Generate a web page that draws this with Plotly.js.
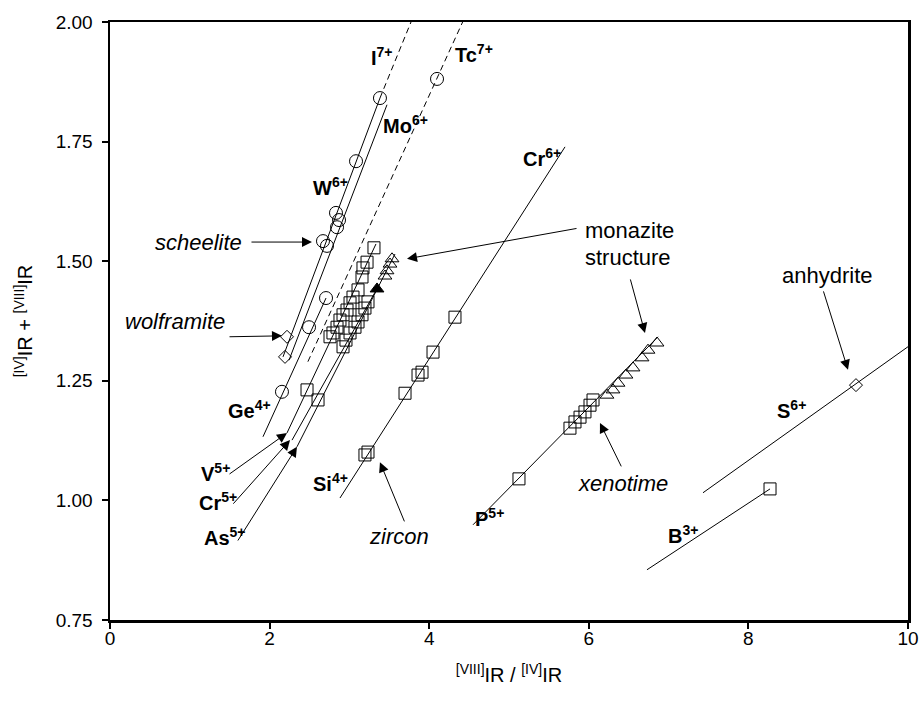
<!DOCTYPE html>
<html>
<head>
<meta charset="utf-8">
<script src="https://cdn.plot.ly/plotly-3.0.1.min.js"></script>
<style>html,body{margin:0;padding:0;background:#fff;}#chart{width:922px;height:705px;}</style>
</head>
<body>
<div id="chart"></div>
<script>
// ---------- data ----------
// open circles (XO4 compounds)
const circleX = [2.832, 2.870, 2.845, 2.669, 2.719, 2.707, 2.494, 2.155, 3.083, 3.383, 4.098];
const circleY = [1.601, 1.586, 1.571, 1.542, 1.532, 1.423, 1.362, 1.227, 1.709, 1.841, 1.881];
// open diamonds (wolframite, anhydrite)
const diamondX = [2.218, 2.193, 9.348];
const diamondY = [1.342, 1.300, 1.241];
// open squares (zircon / xenotime structure)
const squareX = [3.308, 3.221, 3.170, 3.158, 3.108, 3.045, 3.008, 2.970, 2.920, 2.882, 2.845, 2.794, 2.757, 2.920,
                 3.233, 3.195, 3.158, 3.108, 3.070, 3.008, 2.957, 2.469, 2.607,
                 4.323, 4.048, 3.910, 3.860, 3.697, 3.233, 3.195,
                 5.125, 5.764, 5.827, 5.890, 5.952, 6.015, 6.053, 8.271];
const squareY = [1.528, 1.498, 1.486, 1.467, 1.440, 1.425, 1.413, 1.398, 1.388, 1.377, 1.362, 1.350, 1.342, 1.321,
                 1.415, 1.402, 1.388, 1.373, 1.362, 1.350, 1.335, 1.231, 1.210,
                 1.383, 1.310, 1.268, 1.262, 1.224, 1.101, 1.095,
                 1.045, 1.151, 1.164, 1.174, 1.185, 1.199, 1.210, 1.024];
// open triangles (monazite structure)
const triX = [3.534, 3.509, 3.471, 3.446, 6.228, 6.303, 6.366, 6.466, 6.554, 6.667, 6.742, 6.855];
const triY = [1.505, 1.494, 1.480, 1.469, 1.220, 1.231, 1.245, 1.262, 1.277, 1.298, 1.314, 1.329];
// filled triangle
const filledTriX = [3.346];
const filledTriY = [1.442];

// trend lines (solid)
const wLineX = [2.168, 3.383],  wLineY = [1.300, 1.841];
const moLineX = [2.243, 3.471], moLineY = [1.293, 1.827];
const geLineX = [1.917, 2.707], geLineY = [1.133, 1.423];
const vLineX = [2.218, 3.333],  vLineY = [1.141, 1.536];
const crLineX = [2.281, 3.371], crLineY = [1.126, 1.450];
const asLineX = [2.343, 3.571], asLineY = [1.112, 1.515];
const siLineX = [2.882, 5.702], siLineY = [1.005, 1.739];
const pLineX = [4.549, 6.867],  pLineY = [0.949, 1.342];
const sLineX = [7.431, 10.2],   sLineY = [1.016, 1.345];
const bLineX = [6.729, 8.271],  bLineY = [0.855, 1.024];
// trend lines (dashed)
const iLineX = [3.383, 3.772],  iLineY = [1.841, 2.000];
const tcLineX = [2.480, 4.419], tcLineY = [1.290, 2.000];

// axis ticks
const xTicks = [0, 2, 4, 6, 8, 10];
const yTicks = [0.75, 1.00, 1.25, 1.50, 1.75, 2.00];

// ---------- drawing ----------
const FONT = 'Liberation Sans, Arial, sans-serif';
function seg(x, y, dash) {
  return {x: x, y: y, type: 'scatter', mode: 'lines', hoverinfo: 'skip',
          line: {color: '#000', width: 1, dash: dash || 'solid'}, showlegend: false};
}
function pts(x, y, symbol, size) {
  return {x: x, y: y, type: 'scatter', mode: 'markers', showlegend: false, cliponaxis: false,
          marker: {symbol: symbol, size: size, color: '#000', line: {color: '#000', width: 1}}};
}
const traces = [
  seg(wLineX, wLineY), seg(moLineX, moLineY), seg(geLineX, geLineY),
  seg(vLineX, vLineY), seg(crLineX, crLineY), seg(asLineX, asLineY),
  seg(siLineX, siLineY), seg(pLineX, pLineY), seg(sLineX, sLineY), seg(bLineX, bLineY),
  seg(iLineX, iLineY, '6px,4px'), seg(tcLineX, tcLineY, '6px,4px'),
  pts(squareX, squareY, 'square-open', 12),
  pts(triX, triY, 'triangle-up-open', 12),
  pts(filledTriX, filledTriY, 'triangle-up', 12),
  pts(diamondX, diamondY, 'diamond-open', 10),
  pts(circleX, circleY, 'circle-open', 13)
];

function label(text, x, y, size) {
  return {text: text, x: x, y: y, xref: 'x', yref: 'y', showarrow: false,
          font: {family: FONT, size: size || 20, color: '#000'}, xanchor: 'center', yanchor: 'middle'};
}
function arrow(tipX, tipY, tailX, tailY) {
  return {x: tipX, y: tipY, ax: tailX, ay: tailY, xref: 'x', yref: 'y', axref: 'x', ayref: 'y',
          text: '', showarrow: true, arrowhead: 2, arrowsize: 2, arrowwidth: 1, arrowcolor: '#000', standoff: 0};
}
const annotations = [
  label('<b>I<sup>7+</sup></b>', 3.409, 1.927),
  label('<b>Tc<sup>7+</sup></b>', 4.561, 1.935),
  label('<b>Mo<sup>6+</sup></b>', 3.697, 1.785),
  label('<b>W<sup>6+</sup></b>', 2.757, 1.657),
  label('<b>Ge<sup>4+</sup></b>', 1.754, 1.189),
  label('<b>V<sup>5+</sup></b>', 1.328, 1.059),
  label('<b>Cr<sup>5+</sup></b>', 1.353, 0.997),
  label('<b>As<sup>5+</sup></b>', 1.441, 0.924),
  label('<b>Si<sup>4+</sup></b>', 2.757, 1.038),
  label('<b>Cr<sup>6+</sup></b>', 5.414, 1.716),
  label('<b>P<sup>5+</sup></b>', 4.760, 0.965),
  label('<b>S<sup>6+</sup></b>', 8.546, 1.189),
  label('<b>B<sup>3+</sup></b>', 7.180, 0.928),
  label('<i>scheelite</i>', 1.115, 1.540, 22),
  label('<i>wolframite</i>', 0.815, 1.375, 22),
  label('<i>zircon</i>', 3.622, 0.924, 22),
  label('<i>xenotime</i>', 6.429, 1.036, 22),
  label('monazite', 6.516, 1.565, 22),
  label('structure', 6.491, 1.507, 22),
  label('anhydrite', 8.997, 1.471, 22),
  arrow(2.531, 1.540, 1.754, 1.540),
  arrow(2.155, 1.344, 1.479, 1.342),
  arrow(2.218, 1.141, 1.479, 1.053),
  arrow(2.256, 1.126, 1.529, 0.990),
  arrow(2.343, 1.112, 1.591, 0.913),
  arrow(3.383, 1.080, 3.697, 0.953),
  arrow(3.722, 1.505, 5.865, 1.569),
  arrow(6.704, 1.350, 6.516, 1.465),
  arrow(6.140, 1.162, 6.416, 1.068),
  arrow(9.248, 1.273, 8.935, 1.440)
];

const axisCommon = {
  showgrid: false, zeroline: false, showline: true, linecolor: '#000', linewidth: 2.5, mirror: true,
  ticks: 'outside', tickcolor: '#000', tickwidth: 2, ticklen: 6,
  tickfont: {family: FONT, size: 19, color: '#000'}
};
const NB = '\u00a0';
const layout = {
  width: 922, height: 705,
  margin: {l: 110, r: 14, t: 22, b: 85},
  paper_bgcolor: '#fff', plot_bgcolor: '#fff',
  showlegend: false,
  xaxis: Object.assign({}, axisCommon, {
    range: [0, 10], tickvals: xTicks, ticktext: xTicks.map(String), ticklabelstandoff: -6,
    title: {text: '<sup>[VIII]</sup>IR / <sup>[IV]</sup>IR' + NB.repeat(6), font: {family: FONT, size: 20, color: '#000'}, standoff: 20}
  }),
  yaxis: Object.assign({}, axisCommon, {
    range: [0.75, 2.0], tickvals: yTicks, ticktext: yTicks.map(v => v.toFixed(2)), ticklabelstandoff: 5,
    title: {text: '<sup>[IV]</sup>IR + <sup>[VIII]</sup>IR', font: {family: FONT, size: 20, color: '#000'}, standoff: 18}
  }),
  annotations: annotations
};
Plotly.newPlot('chart', traces, layout, {displayModeBar: false, staticPlot: true});
</script>
</body>
</html>
